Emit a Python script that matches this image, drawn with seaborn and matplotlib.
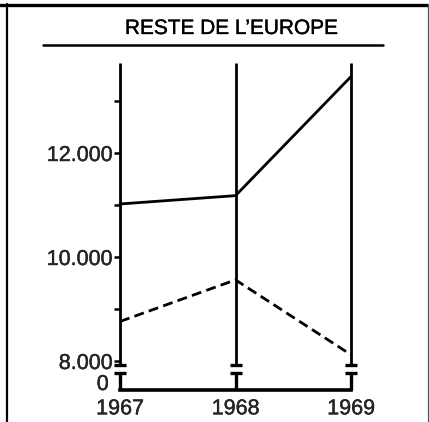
import matplotlib
matplotlib.use("Agg")
import matplotlib.pyplot as plt
import matplotlib.patheffects as pe
from matplotlib.lines import Line2D
import seaborn as sns
import pandas as pd

# Data
years = [1967, 1968, 1969]
series_solid = [11020, 11180, 13470]
series_dashed = [8760, 9560, 8120]
major_ticks = [8000, 10000, 12000]
major_labels = ["8.000", "10.000", "12.000"]
minor_ticks = [9000, 11000, 13000]
title = "RESTE DE L’EUROPE"

sns.set_style("white")
plt.rcParams["font.family"] = ["Liberation Sans", "DejaVu Sans"]

df = pd.DataFrame({
    "year": years * 2,
    "value": series_solid + series_dashed,
    "series": ["solid"] * len(years) + ["dashed"] * len(years),
})

W, H = 429, 422
fig = plt.figure(figsize=(W / 100, H / 100), dpi=100)
fig.patch.set_facecolor("white")

def fx(px):
    return px / W

def fy(py):
    return 1 - py / H

x0, x1 = 120, 351
y_top, y_low = 63, 365
FS = 15.5
heavy = [pe.withStroke(linewidth=0.25, foreground="black")]

# upper panel (broken scale 8.000 .. top)
ax = fig.add_axes([fx(x0), fy(y_low), fx(x1 - x0), (y_low - y_top) / H])
ymin, ymax = 7923, 13731
sns.lineplot(data=df, x="year", y="value", hue="series", style="series",
             palette={"solid": "black", "dashed": "black"},
             dashes={"solid": "", "dashed": (3.6, 1.9)},
             linewidth=2.0, legend=False, ax=ax)
for ln in ax.lines:
    ln.set_clip_on(False)
ax.vlines(years, ymin, ymax, colors="black", linewidth=2.0, clip_on=False)
ax.plot(years, [ymin] * len(years), ls="none", marker="_", ms=8, mew=2.4,
        color="black", clip_on=False)
ax.set_xlim(years[0], years[-1])
ax.set_ylim(ymin, ymax)
for s in ax.spines.values():
    s.set_visible(False)
ax.set_yticks(major_ticks)
ax.set_yticklabels(major_labels, fontsize=FS)
ax.set_yticks(minor_ticks, minor=True)
ax.tick_params(axis="y", which="both", direction="out", length=4, width=1.8,
               color="black", pad=1, left=True)
ax.set_xticks([])
ax.set_xlabel("")
ax.set_ylabel("")
ax.patch.set_alpha(0)

# lower panel (zero baseline)
y_l0, y_l1 = 373, 390
ax2 = fig.add_axes([fx(x0), fy(y_l1), fx(x1 - x0), (y_l1 - y_l0) / H])
ax2.set_xlim(years[0], years[-1])
ax2.set_ylim(0, 1)
ax2.vlines(years, 0, 1, colors="black", linewidth=2.4, clip_on=False)
ax2.plot(years, [1] * len(years), ls="none", marker="_", ms=8, mew=2.4,
         color="black", clip_on=False)
ax2.plot([years[0], years[-1]], [0, 0], color="black", linewidth=2.6,
         solid_capstyle="projecting", clip_on=False)
for s in ax2.spines.values():
    s.set_visible(False)
ax2.set_yticks([0])
ax2.set_yticklabels(["0"], fontsize=FS, va="baseline")
ax2.set_xticks(years)
ax2.set_xticklabels([str(y) for y in years], fontsize=FS)
ax2.tick_params(axis="both", length=0)
ax2.tick_params(axis="x", pad=6)
ax2.tick_params(axis="y", pad=8)
ax2.patch.set_alpha(0)

for lbl in ax.get_yticklabels() + ax2.get_yticklabels() + ax2.get_xticklabels():
    lbl.set_path_effects(heavy)

# heading and rule
fig.text(fx(232), fy(28.5), title, ha="center", va="center", fontsize=15,
         color="black", path_effects=heavy)
fig.add_artist(Line2D([fx(43), fx(383)], [fy(45), fy(45)], color="black",
                      linewidth=1.8, transform=fig.transFigure))

# frame
fig.add_artist(Line2D([fx(7), fx(7)], [0, fy(4)], color="black",
                      linewidth=1.6, transform=fig.transFigure))
fig.add_artist(Line2D([0, 1], [fy(4.5), fy(4.5)], color="black",
                      linewidth=2.4, transform=fig.transFigure))
fig.add_artist(Line2D([fx(427.5), fx(427.5)], [0, fy(4)], color="#555555",
                      linewidth=0.9, transform=fig.transFigure))

fig.savefig("out.png", dpi=100, facecolor="white")
